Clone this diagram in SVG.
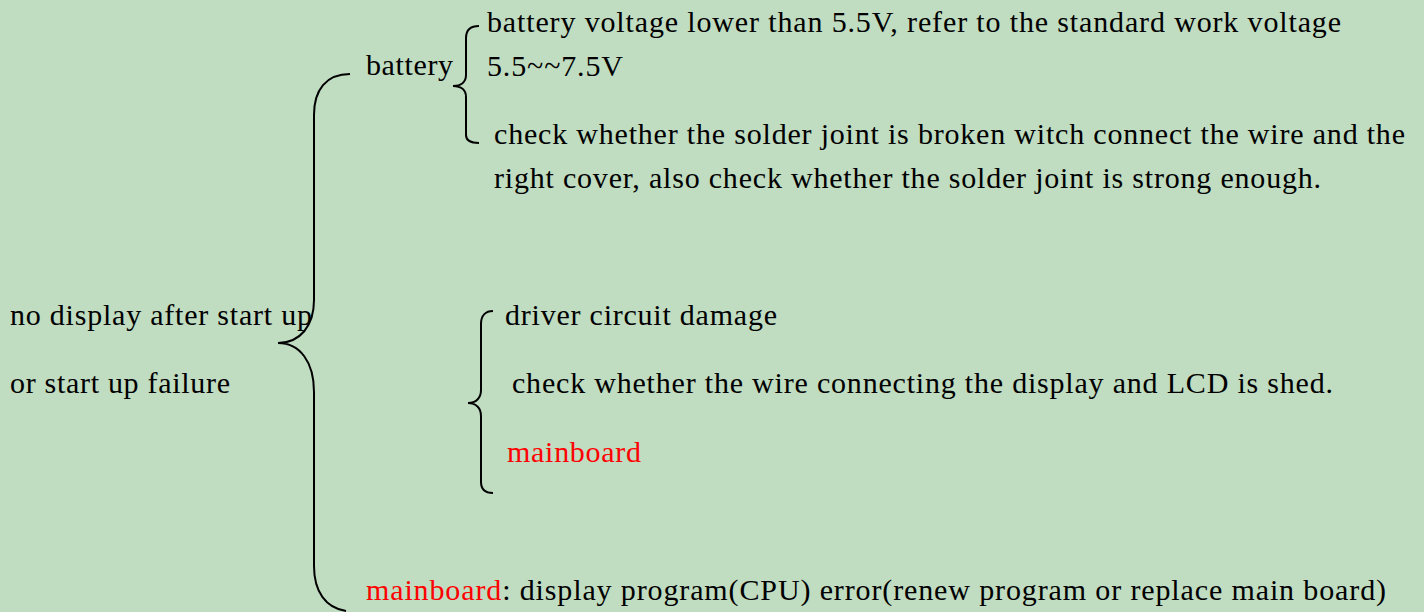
<svg xmlns="http://www.w3.org/2000/svg" width="1424" height="612" viewBox="0 0 1424 612">
<style>
text{font-family:"Liberation Serif","Times New Roman",serif;font-size:30px;fill:#000}
.red{fill:#ff0000}
.brace{fill:none;stroke:#000;stroke-width:2}
</style>
<rect x="0" y="0" width="1424" height="612" fill="#c0dcc1"/>
<g id="connectors">
<path class="brace" d="M350,74 C326,74 314,90 314,115 L314,300 C314,326 300,343 278,343 C300,343 314,362 314,392 L314,566 C314,592 326,608 346,611"/>
<path class="brace" d="M479,26 C470,26 466,30 466,38 L466,75 C466,82 461,86 453,86 C461,86 466,90 466,97 L466,135 C466,140 470,143 479,143"/>
<path class="brace" d="M493,311 C486,311 481,315 481,324 L481,390 C481,398 476,403 468,403 C476,403 481,408 481,416 L481,482 C481,490 486,493 493,493"/>
</g>
<g id="root"><text x="10" y="325" textLength="302" lengthAdjust="spacing">no display after start up</text><text x="10" y="393" textLength="220" lengthAdjust="spacing">or start up failure</text></g>
<g id="battery"><text x="366" y="75" textLength="87" lengthAdjust="spacing">battery</text></g>
<g id="battery-voltage"><text x="487" y="32" textLength="854" lengthAdjust="spacing">battery voltage lower than 5.5V, refer to the standard work voltage</text><text x="487" y="76" textLength="136" lengthAdjust="spacing">5.5~~7.5V</text></g>
<g id="solder-joint"><text x="494" y="144" textLength="911" lengthAdjust="spacing">check whether the solder joint is broken witch connect the wire and the</text><text x="494" y="188" textLength="827" lengthAdjust="spacing">right cover, also check whether the solder joint is strong enough.</text></g>
<g id="driver-circuit"><text x="505" y="325" textLength="272" lengthAdjust="spacing">driver circuit damage</text></g>
<g id="wire-check"><text x="512" y="393" textLength="821" lengthAdjust="spacing">check whether the wire connecting the display and LCD is shed.</text></g>
<g id="mainboard-sub"><text x="507" y="462" class="red" textLength="134" lengthAdjust="spacing">mainboard</text></g>
<g id="mainboard-main"><text x="366" y="600" textLength="1020" lengthAdjust="spacing"><tspan class="red">mainboard</tspan>: display program(CPU) error(renew program or replace main board)</text></g>
</svg>
